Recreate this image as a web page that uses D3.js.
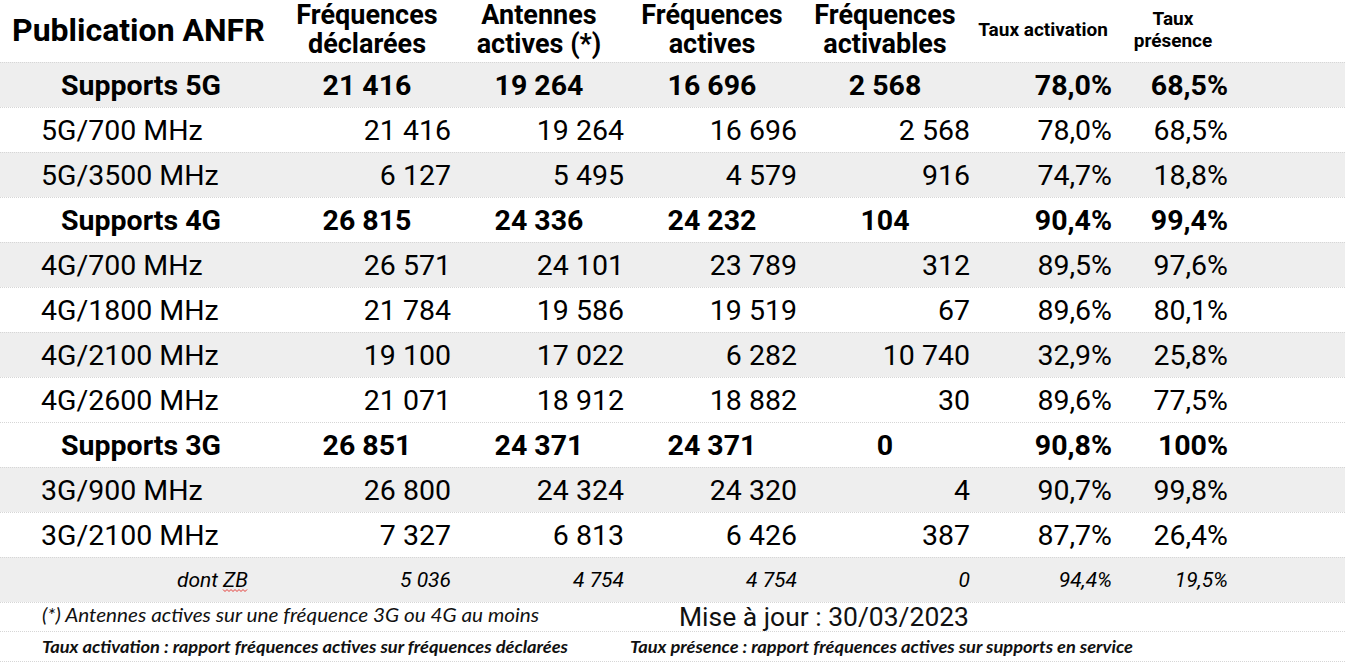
<!DOCTYPE html>
<html>
<head>
<meta charset="utf-8">
<script src="https://cdn.jsdelivr.net/npm/d3@7"></script>
<style>
  html, body { margin: 0; padding: 0; background: #fff; }
  svg { display: block; font-family: Roboto, "Noto Sans", sans-serif; }
</style>
</head>
<body>
<div id="table"></div>
<script>
const rowLabels = ["Supports 5G", "5G/700 MHz", "5G/3500 MHz", "Supports 4G", "4G/700 MHz", "4G/1800 MHz",
  "4G/2100 MHz", "4G/2600 MHz", "Supports 3G", "3G/900 MHz", "3G/2100 MHz", "dont ZB"];
const rowKinds = ["total", "sub", "sub", "total", "sub", "sub", "sub", "sub", "total", "sub", "sub", "zb"];
const rowShaded = [true, false, true, false, true, false, true, false, false, true, false, true];

const freqDeclarees = [21416, 21416, 6127, 26815, 26571, 21784, 19100, 21071, 26851, 26800, 7327, 5036];
const antennesActives = [19264, 19264, 5495, 24336, 24101, 19586, 17022, 18912, 24371, 24324, 6813, 4754];
const freqActives = [16696, 16696, 4579, 24232, 23789, 19519, 6282, 18882, 24371, 24320, 6426, 4754];
const freqActivables = [2568, 2568, 916, 104, 312, 67, 10740, 30, 0, 4, 387, 0];
const tauxActivation = [78.0, 78.0, 74.7, 90.4, 89.5, 89.6, 32.9, 89.6, 90.8, 90.7, 87.7, 94.4];
const tauxPresence = [68.5, 68.5, 18.8, 99.4, 97.6, 80.1, 25.8, 77.5, 100, 99.8, 26.4, 19.5];

const columnKeys = ["declarees", "antennes", "actives", "activables", "activation", "presence"];
const headerLines = [["Fréquences", "déclarées"], ["Antennes", "actives (*)"], ["Fréquences", "actives"],
  ["Fréquences", "activables"], ["Taux activation"], ["Taux", "présence"]];
const series = [freqDeclarees, antennesActives, freqActives, freqActivables, tauxActivation, tauxPresence];

const title = "Publication ANFR";
const noteStar = "(*) Antennes actives sur une fréquence 3G ou 4G au moins";
const noteDate = "Mise à jour : 30/03/2023";
const noteActivation = "Taux activation : rapport fréquences actives sur fréquences déclarées";
const notePresence = "Taux présence : rapport fréquences actives sur supports en service";

// === layout ===
const width = 1345, height = 665;
const svg = d3.select("#table").append("svg")
  .attr("width", width)
  .attr("height", height);

const fr = d3.formatLocale({ decimal: ",", thousands: "\u00a0", grouping: [3], currency: ["", "€"] });
const fmtInt = fr.format(",d");
const fmtPct = v => (v === 100 ? "100" : fr.format(".1f")(v)) + "%";

const y = d3.scaleBand().domain(d3.range(rowLabels.length)).range([62, 602]);
// right edges of normal cells, centres of bold cells
const xRight = d3.scaleOrdinal().domain(columnKeys).range([451, 624, 797, 970, 1112, 1228]);
const xCenter = d3.scaleOrdinal().domain(columnKeys).range([367, 539, 712, 885, 1043, 1173]);

const grid = "#d6d6d6";

// row backgrounds
svg.append("g").selectAll("rect")
  .data(rowLabels)
  .join("rect")
  .attr("x", 0)
  .attr("y", (d, i) => y(i))
  .attr("width", width)
  .attr("height", y.bandwidth())
  .attr("fill", (d, i) => rowShaded[i] ? "#eeeeee" : "#fff");

// dotted grid lines
const lineYs = [62].concat(d3.range(rowLabels.length).map(i => y(i) + y.bandwidth()), [631, 661]);
svg.append("g").selectAll("line")
  .data(lineYs)
  .join("line")
  .attr("x1", 0).attr("x2", width)
  .attr("y1", d => d + 0.5).attr("y2", d => d + 0.5)
  .attr("stroke", grid)
  .attr("stroke-dasharray", "1,1");

// header
svg.append("text")
  .attr("x", 12).attr("y", 41)
  .attr("font-size", 32).attr("font-weight", 700)
  .text(title);

const head = svg.append("g").selectAll("g")
  .data(columnKeys)
  .join("g");
head.each(function (k, c) {
  const lines = headerLines[c];
  const small = c >= 4;
  const size = small ? 19 : 27;
  const base = lines.length === 1 ? [36] : (small ? [25, 47] : [24, 53]);
  d3.select(this).selectAll("text")
    .data(lines)
    .join("text")
    .attr("x", xCenter(k))
    .attr("y", (d, j) => base[j])
    .attr("text-anchor", "middle")
    .attr("font-size", size)
    .attr("font-weight", 700)
    .text(d => d);
});

// body rows
const rows = svg.append("g").selectAll("g")
  .data(rowLabels)
  .join("g")
  .attr("transform", (d, i) => `translate(0,${y(i) + y.bandwidth() / 2})`);

rows.each(function (label, i) {
  const g = d3.select(this);
  const kind = rowKinds[i];
  const isTotal = kind === "total";
  const isZb = kind === "zb";
  const size = isZb ? 21 : 28.5;
  const dy = isZb ? 7 : 10;

  const lab = g.append("text")
    .attr("y", dy)
    .attr("font-size", size)
    .attr("font-weight", isTotal ? 700 : 400)
    .attr("font-style", isZb ? "italic" : "normal")
    .text(label);
  if (isTotal) lab.attr("x", 141).attr("text-anchor", "middle");
  else if (isZb) lab.attr("x", 248).attr("text-anchor", "end");
  else lab.attr("x", 41);

  g.selectAll("text.v")
    .data(columnKeys)
    .join("text")
    .attr("class", "v")
    .attr("x", k => (isTotal && columnKeys.indexOf(k) < 4) ? xCenter(k) : xRight(k))
    .attr("y", dy)
    .attr("text-anchor", k => (isTotal && columnKeys.indexOf(k) < 4) ? "middle" : "end")
    .attr("font-size", size)
    .attr("font-weight", isTotal ? 700 : 400)
    .attr("font-style", isZb ? "italic" : "normal")
    .text((k, c) => c < 4 ? fmtInt(series[c][i]) : fmtPct(series[c][i]));

  if (isZb) {
    // spell-check squiggle under "ZB"
    const sq = d3.range(0, 26, 2).map(t => [223 + t, dy + 3 + (t % 4 === 0 ? 0 : 2)]);
    g.append("path")
      .attr("d", d3.line()(sq))
      .attr("fill", "none")
      .attr("stroke", "#e53935")
      .attr("stroke-width", 1);
  }
});

// footnotes
const notes = svg.append("g").attr("font-style", "italic").attr("fill", "#111");
notes.append("text").attr("x", 42).attr("y", 622)
  .attr("font-family", "Lato, 'Open Sans', sans-serif").attr("font-size", 19)
  .attr("textLength", 497).attr("lengthAdjust", "spacingAndGlyphs")
  .text(noteStar);
notes.append("text").attr("x", 679).attr("y", 626)
  .attr("font-style", "normal").attr("font-size", 25)
  .attr("textLength", 290).attr("lengthAdjust", "spacingAndGlyphs")
  .text(noteDate);
notes.append("text").attr("x", 42).attr("y", 653)
  .attr("font-family", "Lato, 'Open Sans', sans-serif").attr("font-size", 17)
  .attr("font-weight", 700)
  .attr("textLength", 526).attr("lengthAdjust", "spacingAndGlyphs")
  .text(noteActivation);
notes.append("text").attr("x", 630).attr("y", 653)
  .attr("font-family", "Lato, 'Open Sans', sans-serif").attr("font-size", 17)
  .attr("font-weight", 700)
  .attr("textLength", 503).attr("lengthAdjust", "spacingAndGlyphs")
  .text(notePresence);
</script>
</body>
</html>
